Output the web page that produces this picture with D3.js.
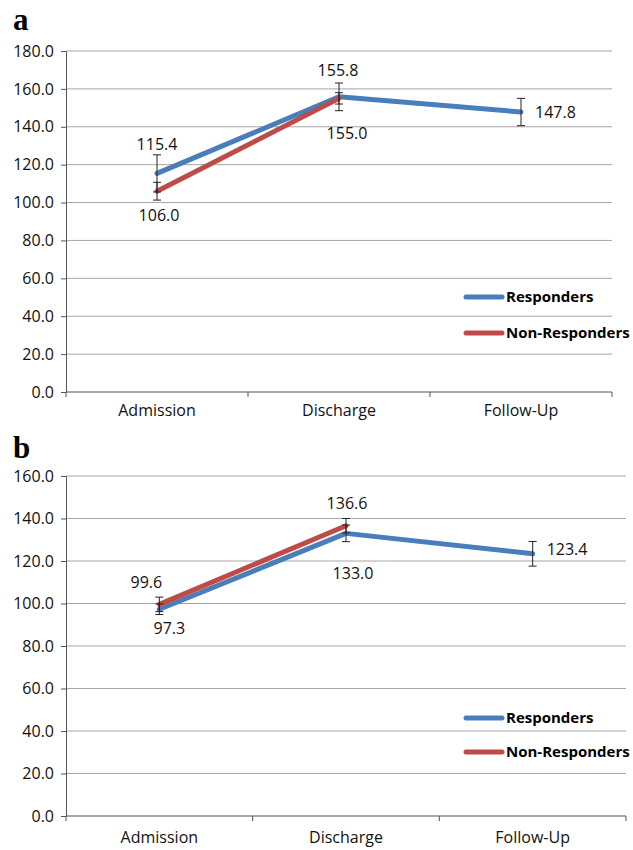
<!DOCTYPE html>
<html>
<head>
<meta charset="utf-8">
<script src="https://cdn.jsdelivr.net/npm/d3@7"></script>
<style>
  body { margin: 0; background: #fff; }
  text { font-family: "Open Sans", sans-serif; fill: #111; }
</style>
</head>
<body>
<div id="chart"></div>
<script>
// data
var categories = ['Admission', 'Discharge', 'Follow-Up'];
var seriesNames = ['Responders', 'Non-Responders'];

var respondersA = [115.4, 155.8, 147.8];
var respondersErrA = [9.8, 7.3, 7.2];
var nonRespondersA = [106.0, 155.0];
var nonRespondersErrA = [4.7, 3.0];

var respondersB = [97.3, 133.0, 123.4];
var respondersErrB = [2.5, 3.9, 5.8];
var nonRespondersB = [99.6, 136.6];
var nonRespondersErrB = [3.4, 3.4];

var yTicksA = [0, 20, 40, 60, 80, 100, 120, 140, 160, 180];
var yTicksB = [0, 20, 40, 60, 80, 100, 120, 140, 160];

// label nudges [dx, dy] from each point (layout only)
var labelOffA = {
    resp: [[0, -23], [-1, -21], [14, 6]],
    non: [[2, 30], [8, 41]]
};
var labelOffB = {
    resp: [[10, 25], [7, 46], [14, 1]],
    non: [[-13, -16], [1, -17]]
};

var colors = { resp: '#4a7ebb', non: '#be4b48' };
var fontSize = '16px';

var svg = d3.select('#chart')
    .append('svg')
    .attr('width', 633)
    .attr('height', 850);

function drawPanel(opts) {
    var g = svg.append('g');

    var x = d3.scaleBand()
        .domain(categories)
        .range([opts.left, opts.right]);

    var y = d3.scaleLinear()
        .domain([0, opts.yMax])
        .range([opts.bottom, opts.top]);

    // panel letter
    g.append('text')
        .attr('x', 13)
        .attr('y', opts.letterY)
        .style('font-family', '"Liberation Serif", serif')
        .style('font-weight', 'bold')
        .style('font-size', '31px')
        .style('fill', '#000')
        .text(opts.letter);

    // gridlines
    g.append('g')
        .selectAll('line')
        .data(opts.ticks.slice(1))
        .enter()
        .append('line')
        .attr('x1', opts.left)
        .attr('x2', opts.right)
        .attr('y1', function(d) { return y(d); })
        .attr('y2', function(d) { return y(d); })
        .style('stroke', '#a6a6a6')
        .style('stroke-width', 1);

    // y axis
    var yAxis = g.append('g')
        .attr('transform', 'translate(' + opts.left + ',0)')
        .call(d3.axisLeft(y).tickValues(opts.ticks).tickFormat(d3.format('.1f')).tickSize(5).tickPadding(7));
    yAxis.select('.domain').style('stroke', '#555');
    yAxis.selectAll('.tick line').style('stroke', '#555');
    yAxis.selectAll('.tick text')
        .style('font-family', '"Open Sans", sans-serif')
        .style('font-size', fontSize)
        .style('fill', '#111');

    // x axis: ticks sit on category boundaries
    var xAxisG = g.append('g')
        .attr('transform', 'translate(0,' + opts.bottom + ')');
    xAxisG.append('line')
        .attr('x1', opts.left)
        .attr('x2', opts.right)
        .style('stroke', '#555');
    var bounds = categories.map(function(c) { return x(c); }).concat([opts.right]);
    xAxisG.selectAll('.xtick')
        .data(bounds)
        .enter()
        .append('line')
        .attr('class', 'xtick')
        .attr('x1', function(d) { return d; })
        .attr('x2', function(d) { return d; })
        .attr('y1', 0)
        .attr('y2', 5)
        .style('stroke', '#555');
    xAxisG.selectAll('.xlabel')
        .data(categories)
        .enter()
        .append('text')
        .attr('class', 'xlabel')
        .attr('x', function(d) { return x(d) + x.bandwidth() / 2; })
        .attr('y', opts.xLabelDy)
        .attr('text-anchor', 'middle')
        .style('font-size', fontSize)
        .text(function(d) { return d; });

    var cx = function(i) { return x(categories[i]) + x.bandwidth() / 2; };

    var series = [
        { key: 'resp', values: opts.resp, err: opts.respErr, off: opts.labelOff.resp },
        { key: 'non', values: opts.non, err: opts.nonErr, off: opts.labelOff.non }
    ];

    var line = d3.line()
        .x(function(d, i) { return cx(i); })
        .y(function(d) { return y(d); });

    // lines
    series.forEach(function(s) {
        g.append('path')
            .datum(s.values)
            .attr('d', line)
            .style('fill', 'none')
            .style('stroke', colors[s.key])
            .style('stroke-width', 5)
            .style('stroke-linecap', 'round')
            .style('stroke-linejoin', 'round');
    });

    // error bars
    series.forEach(function(s) {
        var eg = g.append('g');
        s.values.forEach(function(v, i) {
            var e = s.err[i];
            var xx = cx(i);
            eg.append('line')
                .attr('x1', xx).attr('x2', xx)
                .attr('y1', y(v - e)).attr('y2', y(v + e))
                .style('stroke', '#222').style('stroke-width', 1);
            [v - e, v + e].forEach(function(t) {
                eg.append('line')
                    .attr('x1', xx - 4).attr('x2', xx + 4)
                    .attr('y1', y(t)).attr('y2', y(t))
                    .style('stroke', '#222').style('stroke-width', 1);
            });
        });
    });

    // data labels
    series.forEach(function(s) {
        g.append('g')
            .selectAll('text')
            .data(s.values)
            .enter()
            .append('text')
            .attr('x', function(d, i) { return cx(i) + s.off[i][0]; })
            .attr('y', function(d, i) { return y(d) + s.off[i][1]; })
            .attr('text-anchor', function(d, i) { return s.off[i][0] > 12 ? 'start' : 'middle'; })
            .style('font-size', fontSize)
            .text(function(d) { return d3.format('.1f')(d); });
    });

    // legend
    var lg = g.append('g');
    series.forEach(function(s, i) {
        var ly = opts.legendY[i];
        lg.append('line')
            .attr('x1', 466).attr('x2', 502)
            .attr('y1', ly).attr('y2', ly)
            .style('stroke', colors[s.key])
            .style('stroke-width', 5)
            .style('stroke-linecap', 'round');
        lg.append('text')
            .attr('x', 506)
            .attr('y', ly + 5)
            .style('font-weight', 'bold')
            .style('font-size', '15px')
            .style('fill', '#000')
            .text(seriesNames[i]);
    });
}

drawPanel({
    letter: 'a', letterY: 30,
    left: 66, right: 612, top: 51, bottom: 392,
    yMax: 180, ticks: yTicksA, xLabelDy: 24,
    resp: respondersA, respErr: respondersErrA,
    non: nonRespondersA, nonErr: nonRespondersErrA,
    labelOff: labelOffA, legendY: [297, 333]
});

drawPanel({
    letter: 'b', letterY: 458,
    left: 66, right: 626, top: 476, bottom: 816,
    yMax: 160, ticks: yTicksB, xLabelDy: 27,
    resp: respondersB, respErr: respondersErrB,
    non: nonRespondersB, nonErr: nonRespondersErrB,
    labelOff: labelOffB, legendY: [718, 752]
});
</script>
</body>
</html>
